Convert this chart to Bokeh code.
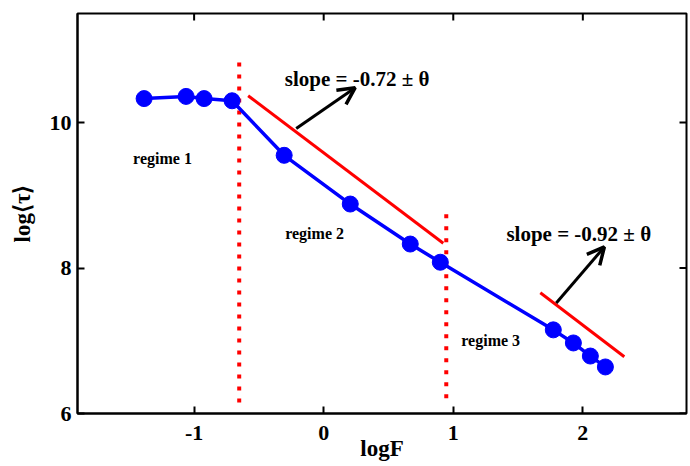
from bokeh.plotting import figure
from bokeh.models import Range1d, FixedTicker, Arrow, OpenHead
from bokeh.embed import file_html
from bokeh.resources import INLINE
from bokeh.core.properties import value

# data
log_f = [-1.386, -1.062, -0.923, -0.707, -0.305, 0.205, 0.668, 0.900, 1.772, 1.927, 2.058, 2.174]
log_tau = [10.33, 10.36, 10.33, 10.30, 9.55, 8.88, 8.33, 8.08, 7.15, 6.97, 6.79, 6.64]

fit1_x = [-0.583, 0.923]
fit1_y = [10.37, 8.34]
fit2_x = [1.672, 2.320]
fit2_y = [7.66, 6.78]

boundary_x = [-0.652, 0.946]
boundary_y0 = [6.15, 6.21]
boundary_y1 = [10.84, 8.74]

arrow_x0 = [-0.212, 1.795]
arrow_y0 = [9.92, 7.52]
arrow_x1 = [0.243, 2.166]
arrow_y1 = [10.48, 8.29]

slope_text = ["slope = -0.72 \u00b1 \u03b8", "slope = -0.92 \u00b1 \u03b8"]
slope_x = [-0.30, 1.41]
slope_y = [10.60, 8.47]

regime_text = ["regime 1", "regime 2", "regime 3"]
regime_x = [-1.471, -0.297, 1.062]
regime_y = [9.51, 8.48, 7.00]

x_ticks = [-1, 0, 1, 2]
x_tick_labels = ["-1", "0", "1", "2"]
y_ticks = [6, 8, 10]
x_lim = (-1.9, 2.8)
y_lim = (6.0, 11.5)

FONT = "Liberation Serif"
W, H = 690, 466
BL, BR, BT, BB = 77, 4, 13, 53
TICK = 7  # px

p = figure(width=W, height=H, output_backend="svg", toolbar_location=None,
           x_range=Range1d(*x_lim), y_range=Range1d(*y_lim),
           min_border_left=BL, min_border_right=BR, min_border_top=BT, min_border_bottom=BB,
           x_axis_label="logF", y_axis_label="log\u27e8\u03c4\u27e9")
p.xgrid.visible = False
p.ygrid.visible = False
p.outline_line_color = "black"
p.outline_line_width = 2
p.background_fill_color = "white"
p.border_fill_color = "white"

for ax in p.xaxis + p.yaxis:
    ax.axis_line_width = 2
    ax.major_tick_line_width = 2
    ax.major_tick_in = TICK
    ax.major_tick_out = 0
    ax.minor_tick_line_color = None
    ax.major_label_text_font = FONT
    ax.major_label_text_font_size = "22px"
    ax.major_label_text_font_style = "bold"
    ax.major_label_text_color = "black"
    ax.axis_label_text_font = FONT
    ax.axis_label_text_font_size = "23px"
    ax.axis_label_text_font_style = "bold"
    ax.axis_label_text_color = "black"
p.xaxis.ticker = FixedTicker(ticks=x_ticks)
p.xaxis.major_label_overrides = {t: s for t, s in zip(x_ticks, x_tick_labels)}
p.yaxis.ticker = FixedTicker(ticks=y_ticks)
p.xaxis.major_label_standoff = 12
p.yaxis.major_label_standoff = 6
p.xaxis.axis_label_standoff = -7
p.yaxis.axis_label_standoff = 12

# mirrored inward ticks on top and right edges (from the tick arrays)
frame_w = W - BL - BR
frame_h = H - BT - BB
dy = TICK * (y_lim[1] - y_lim[0]) / frame_h
dx = TICK * (x_lim[1] - x_lim[0]) / frame_w
p.segment(x0=x_ticks, y0=[y_lim[1]] * len(x_ticks), x1=x_ticks, y1=[y_lim[1] - dy] * len(x_ticks),
          line_color="black", line_width=2)
p.segment(x0=[x_lim[1]] * len(y_ticks), y0=y_ticks, x1=[x_lim[1] - dx] * len(y_ticks), y1=y_ticks,
          line_color="black", line_width=2)

# regime boundaries
p.segment(x0=boundary_x, y0=boundary_y0, x1=boundary_x, y1=boundary_y1,
          line_color="red", line_width=4, line_dash="4 8")

# fit lines
p.line(fit1_x, fit1_y, line_color="red", line_width=3)
p.line(fit2_x, fit2_y, line_color="red", line_width=3)

# data
p.line(log_f, log_tau, line_color="blue", line_width=3.5)
p.scatter(log_f, log_tau, size=16, fill_color="blue", line_color="blue")

# arrows
for i in range(len(arrow_x0)):
    p.add_layout(Arrow(end=OpenHead(size=17, line_width=3.5, line_color="black"),
                       x_start=arrow_x0[i], y_start=arrow_y0[i],
                       x_end=arrow_x1[i], y_end=arrow_y1[i],
                       line_width=3, line_color="black"))

p.text(x=slope_x, y=slope_y, text=slope_text, text_font=value(FONT),
       text_font_style="bold", text_font_size="21px", text_baseline="middle",
       text_color="black")
p.text(x=regime_x, y=regime_y, text=regime_text, text_font=value(FONT),
       text_font_style="bold", text_font_size="16px", text_baseline="middle",
       text_color="black")

open("out.html", "w").write(file_html(p, INLINE))
